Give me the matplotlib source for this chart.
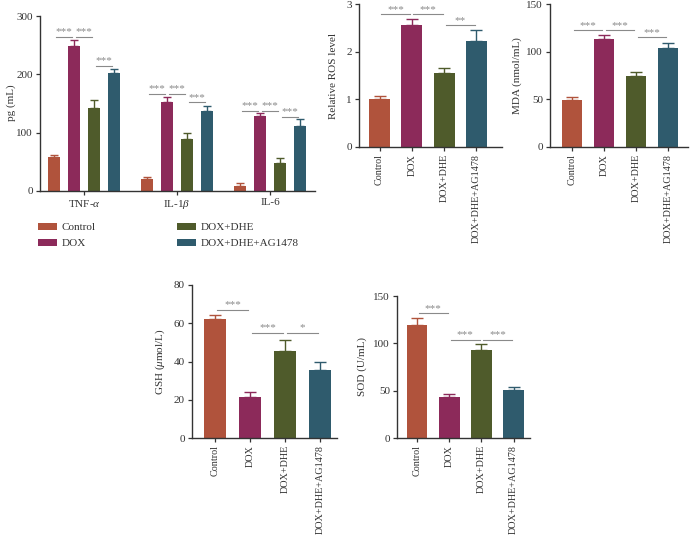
import matplotlib
matplotlib.use("Agg")
import matplotlib.pyplot as plt
from matplotlib.patches import Patch
import numpy as np

plt.rcParams['font.family'] = ['Liberation Serif', 'DejaVu Serif']
plt.rcParams['mathtext.fontset'] = 'custom'
plt.rcParams['mathtext.rm'] = 'Liberation Serif'
plt.rcParams['mathtext.it'] = 'Liberation Serif:italic'

W, H = 690, 541

groups = ["Control", "DOX", "DOX+DHE", "DOX+DHE+AG1478"]
colors = ["#B0533C", "#8C2A5A", "#4F5B2B", "#2F5B6D"]

# Panel A: cytokines
cyto_labels = ["TNF-$\\alpha$", "IL-1$\\beta$", "IL-6"]
cyto_mean = {
    "Control": [59, 20.6, 8.6],
    "DOX": [248.6, 153, 128],
    "DOX+DHE": [143, 88.6, 48.6],
    "DOX+DHE+AG1478": [203, 138, 111],
}
cyto_err = {
    "Control": [3.5, 4, 4.5],
    "DOX": [9.5, 9, 5],
    "DOX+DHE": [13, 10, 7.5],
    "DOX+DHE+AG1478": [6, 7, 12],
}
# significance: (group index, bar i, bar j, height, label)
cyto_sig = [
    (0, 0, 1, 264, "***"), (0, 1, 2, 264, "***"), (0, 2, 3, 215, "***"),
    (1, 0, 1, 167, "***"), (1, 1, 2, 167, "***"), (1, 2, 3, 152, "***"),
    (2, 0, 1, 138, "***"), (2, 1, 2, 138, "***"), (2, 2, 3, 127, "***"),
]

ros_mean = [1.0, 2.565, 1.546, 2.23]
ros_err = [0.075, 0.115, 0.105, 0.23]
ros_sig = [(0, 1, 2.78, "***"), (1, 2, 2.78, "***"), (2, 3, 2.55, "**")]

mda_mean = [49.6, 113.3, 74, 103.8]
mda_err = [2.8, 4.7, 4.3, 5.6]
mda_sig = [(0, 1, 122.4, "***"), (1, 2, 122.4, "***"), (2, 3, 115, "***")]

gsh_mean = [62.3, 21.6, 45.6, 35.5]
gsh_err = [1.9, 2.7, 5.7, 4.3]
gsh_sig = [(0, 1, 67, "***"), (1, 2, 55, "***"), (2, 3, 55, "*")]

sod_mean = [119.4, 42.8, 93, 51]
sod_err = [7.6, 3.9, 6.4, 3.4]
sod_sig = [(0, 1, 131.7, "***"), (1, 2, 103.6, "***"), (2, 3, 103.6, "***")]

fig = plt.figure(figsize=(W / 100, H / 100), dpi=100)

FS = 8
SIGC = "#8a8a8a"


def add_ax(l, r, t, b):
    return fig.add_axes([l / W, 1 - b / H, (r - l) / W, (b - t) / H])


def style(ax):
    for s in ["top", "right"]:
        ax.spines[s].set_visible(False)
    for s in ["left", "bottom"]:
        ax.spines[s].set_color("#333333")
        ax.spines[s].set_linewidth(1.0)
    ax.tick_params(axis="both", direction="out", length=3, width=0.9,
                   colors="#333333", labelsize=FS, labelcolor="#333333", pad=2)


def sig(ax, x1, x2, y, label, shrink):
    ax.plot([x1 + shrink, x2 - shrink], [y, y], color=SIGC, lw=0.8)
    ax.annotate(label, ((x1 + x2) / 2, y), xytext=(0, 0.5),
                textcoords="offset points", ha="center", va="bottom",
                fontsize=8, color=SIGC)


# ---- Panel A
axA = add_ax(40, 315, 16, 191)
style(axA)
step = 0.215
width = 0.129
xg = np.arange(len(cyto_labels))
for k, g in enumerate(groups):
    xs = xg + (k - 1.5) * step
    axA.bar(xs, cyto_mean[g], width=width, color=colors[k], zorder=2)
    axA.errorbar(xs, cyto_mean[g], yerr=[np.zeros(3), cyto_err[g]], fmt="none",
                 ecolor=colors[k], elinewidth=1, capsize=3, capthick=1, zorder=1)
for gi, i, j, y, lab in cyto_sig:
    x1 = gi + (i - 1.5) * step
    x2 = gi + (j - 1.5) * step
    sig(axA, x1, x2, y, lab, 0.02)
axA.set_xlim(-0.473, 2.484)
axA.set_ylim(0, 300)
axA.set_yticks([0, 100, 200, 300])
axA.set_xticks(xg)
axA.set_xticklabels(cyto_labels)
axA.set_ylabel("pg (mL)", fontsize=FS, color="#333333")
axA.yaxis.set_label_coords(16 / W, 1 - 103 / H, transform=fig.transFigure)

handles = [Patch(facecolor=c, edgecolor="none") for c in colors]
fig.legend(handles, groups, loc="upper left", ncol=2, frameon=False,
           bbox_to_anchor=(38 / W, 1 - 223 / H), fontsize=FS,
           handlelength=1.7, handleheight=0.6, handletextpad=0.45,
           columnspacing=7.3, labelspacing=0.55, borderpad=0, borderaxespad=0,
           labelcolor="#333333")


def panel(l, r, t, b, means, errs, sigs, ylim, yticks, ylabel, ylx, xlim,
          width, capsize):
    ax = add_ax(l, r, t, b)
    style(ax)
    x = np.arange(4)
    ax.bar(x, means, width=width, color=colors, zorder=2)
    for k in range(4):
        ax.errorbar(x[k], means[k], yerr=[[0], [errs[k]]], fmt="none",
                    ecolor=colors[k], elinewidth=1, capsize=capsize,
                    capthick=1, zorder=1)
    for i, j, y, lab in sigs:
        sig(ax, i, j, y, lab, 0.05)
    ax.set_xlim(*xlim)
    ax.set_ylim(*ylim)
    ax.set_yticks(yticks)
    ax.set_xticks(x)
    ax.set_xticklabels(groups, rotation=90, fontsize=7.3)
    ax.set_ylabel(ylabel, fontsize=FS, color="#333333")
    ax.yaxis.set_label_coords(ylx / W, 1 - (t + b) / 2 / H,
                              transform=fig.transFigure)
    return ax


panel(359, 502, 4, 147, ros_mean, ros_err, ros_sig, (0, 3), [0, 1, 2, 3],
      "Relative ROS level", 338, (-0.635, 3.79), 0.65, 4)
panel(550, 688, 4, 147, mda_mean, mda_err, mda_sig, (0, 150), [0, 50, 100, 150],
      "MDA (nmol/mL)", 522, (-0.69, 3.625), 0.64, 4)
panel(192, 337, 285, 438, gsh_mean, gsh_err, gsh_sig, (0, 80),
      [0, 20, 40, 60, 80], "GSH ($\\mu$mol/L)", 167, (-0.657, 3.486), 0.63, 4)
panel(397, 530, 296, 438, sod_mean, sod_err, sod_sig, (0, 150),
      [0, 50, 100, 150], "SOD (U/mL)", 367, (-0.62, 3.51), 0.65, 4)

fig.savefig("out.png", dpi=100)
